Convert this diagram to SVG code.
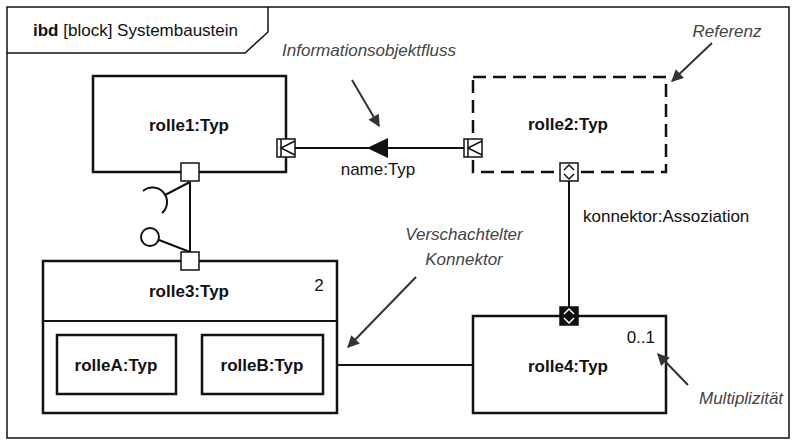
<svg xmlns="http://www.w3.org/2000/svg" width="795" height="446" viewBox="0 0 795 446">
<style>
  text { font-family: "Liberation Sans", Arial, sans-serif; fill: #111; }
  .lbl { font-size: 17px; font-weight: bold; text-anchor: middle; }
  .reg { font-size: 17px; }
  .note { font-size: 17px; font-style: italic; fill: #444; }
  .box { fill: #fff; stroke: #111; stroke-width: 2.5; }
  .ref { fill: #fff; stroke: #111; stroke-width: 2.5; stroke-dasharray: 13 7; }
  .port { fill: #fff; stroke: #111; stroke-width: 1.5; }
  .ln { fill: none; stroke: #111; stroke-width: 2; }
  .thin { fill: none; stroke: #111; stroke-width: 1.5; }
  .ann { fill: none; stroke: #333; stroke-width: 2; marker-end: url(#ah); }
</style>
<defs>
  <marker id="ah" viewBox="0 0 10 10" refX="9" refY="5" markerWidth="5" markerHeight="5" orient="auto" markerUnits="userSpaceOnUse" overflow="visible">
    <path d="M0,0 L10,5 L0,10 z" fill="#333" transform="scale(2.4) translate(-5.2,-3)"/>
  </marker>
</defs>
<rect width="795" height="446" fill="#fff"/>
<g id="frame">
  <rect x="7" y="7" width="782" height="431" fill="none" stroke="#111" stroke-width="1.5"/>
  <path d="M7,53 L245,53 L268,32 L268,7" class="thin"/>
  <text x="33" y="36" class="reg"><tspan font-weight="bold">ibd</tspan> [block] Systembaustein</text>
</g>
<g id="connectors">
  <line x1="295" y1="148" x2="464" y2="148" class="ln"/>
  <path d="M367,148 L388,138 L388,158 z" fill="#111"/>
  <text x="378" y="175" class="reg" text-anchor="middle">name:Typ</text>
  <line x1="569" y1="181" x2="569" y2="308" class="ln"/>
  <text x="583" y="222" class="reg">konnektor:Assoziation</text>
  <line x1="176" y1="365" x2="202" y2="365" class="ln"/>
  <line x1="323" y1="365" x2="473" y2="365" class="ln"/>
  <g id="assembly">
    <line x1="190" y1="182" x2="190" y2="252" class="ln"/>
    <line x1="190" y1="182" x2="165" y2="195" class="ln"/>
    <path d="M143,191 A11,11 0 1 1 162,213" class="ln"/>
    <circle cx="150" cy="237" r="9" class="ln"/>
    <line x1="159" y1="240" x2="190" y2="252" class="ln"/>
  </g>
</g>
<g id="rolle1">
  <rect x="93" y="76" width="193" height="96" class="box"/>
  <text x="189" y="131" class="lbl">rolle1:Typ</text>
  <g id="rolle1-port-out">
    <rect x="277" y="139" width="18" height="18" class="port"/>
    <path d="M281,139 L281,157 M295,141 L281,148 L295,155" class="thin"/>
  </g>
  <g id="rolle1-port-bottom">
    <rect x="181" y="163" width="18" height="18" class="port"/>
  </g>
</g>
<g id="rolle2">
  <rect x="473" y="77" width="193" height="95" class="ref"/>
  <text x="568" y="130" class="lbl">rolle2:Typ</text>
  <g id="rolle2-port-in">
    <rect x="464" y="139" width="18" height="18" class="port"/>
    <path d="M468,139 L468,157 M482,141 L468,148 L482,155" class="thin"/>
  </g>
  <g id="rolle2-port-bottom">
    <rect x="560" y="163" width="18" height="18" class="port"/>
    <path d="M564,170 L569,165 L574,170 M564,174 L569,179 L574,174" class="thin"/>
  </g>
</g>
<g id="rolle3">
  <rect x="43" y="261" width="294" height="152" class="box"/>
  <line x1="43" y1="321" x2="337" y2="321" stroke="#111" stroke-width="2"/>
  <text x="189" y="297" class="lbl">rolle3:Typ</text>
  <text x="319" y="291" class="reg" text-anchor="middle">2</text>
  <rect x="181" y="252" width="18" height="18" class="port"/>
</g>
<g id="rolleA">
  <rect x="57" y="335" width="119" height="59" class="box"/>
  <text x="116" y="371" class="lbl">rolleA:Typ</text>
</g>
<g id="rolleB">
  <rect x="202" y="335" width="121" height="59" class="box"/>
  <text x="262" y="371" class="lbl">rolleB:Typ</text>
</g>
<g id="rolle4">
  <rect x="473" y="316" width="193" height="97" class="box"/>
  <text x="568" y="372" class="lbl">rolle4:Typ</text>
  <text x="655" y="343" class="reg" text-anchor="end">0..1</text>
  <g id="rolle4-port-top">
    <rect x="560" y="307" width="18" height="18" fill="#111" stroke="#111" stroke-width="1.5"/>
    <path d="M564,314 L569,309 L574,314 M564,318 L569,323 L574,318" fill="none" stroke="#fff" stroke-width="1.5"/>
  </g>
</g>
<g id="annotations">
  <text x="369" y="56" class="note" text-anchor="middle">Informationsobjektfluss</text>
  <line x1="352" y1="80" x2="379" y2="126" class="ann"/>
  <text x="727" y="37" class="note" text-anchor="middle">Referenz</text>
  <line x1="712" y1="43" x2="672" y2="81" class="ann"/>
  <text x="464" y="240" class="note" text-anchor="middle">Verschachtelter</text>
  <text x="464" y="265" class="note" text-anchor="middle">Konnektor</text>
  <line x1="416" y1="277" x2="348" y2="347" class="ann"/>
  <text x="699" y="404" class="note">Multiplizität</text>
  <line x1="688" y1="385" x2="658" y2="354" class="ann"/>
</g>
</svg>
